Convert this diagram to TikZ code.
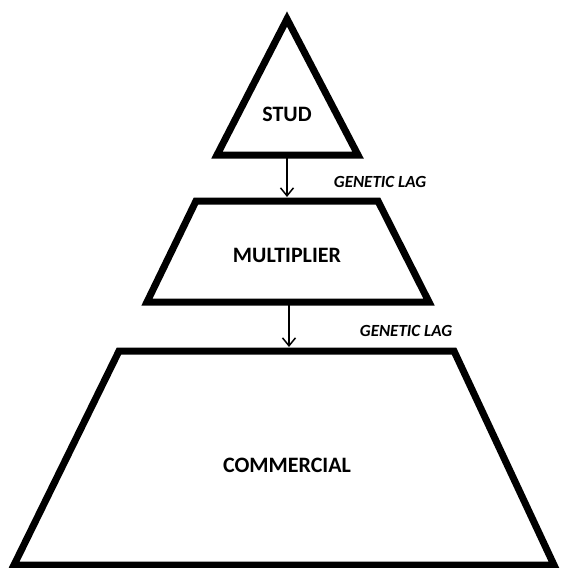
\documentclass[tikz,border=0pt]{standalone}
\usepackage{fontspec}
\setmainfont{Carlito}
\usepackage{tikz}
\usetikzlibrary{arrows.meta}

\begin{document}
\begin{tikzpicture}[x=1pt, y=-1pt, >={Straight Barb[length=8pt,width=13pt,line width=1.5pt]},
		tier/.style={draw, line width=7pt, line join=miter},
		level/.style={font=\bfseries\fontsize{22}{22}\selectfont, inner sep=0pt},
		lag/.style={font=\bfseries\itshape\fontsize{17}{17}\selectfont, inner sep=0pt},
		flow/.style={->, line width=1.5pt}]
		\useasboundingbox (0,0) rectangle (561,568);

		% stud
		\coordinate (s1) at (287,19);
		\coordinate (s2) at (358,155);
		\coordinate (s3) at (217,155);
		\draw[tier] (s1) -- (s2) -- (s3) -- cycle;
		\node[level] (stud) at (287,114) {STUD};

		% multiplier
		\coordinate (m1) at (196,201);
		\coordinate (m2) at (378,201);
		\coordinate (m3) at (429,302);
		\coordinate (m4) at (147,302);
		\draw[tier] (m1) -- (m2) -- (m3) -- (m4) -- cycle;
		\node[level] (mult) at (287,255) {MULTIPLIER};

		% commercial
		\coordinate (c1) at (119,351);
		\coordinate (c2) at (454,351);
		\coordinate (c3) at (554,565);
		\coordinate (c4) at (14,565);
		\draw[tier] (c1) -- (c2) -- (c3) -- (c4) -- cycle;
		\node[level] (comm) at (287,465) {COMMERCIAL};

		% lags
		\coordinate (studbase) at (287,158);
		\coordinate (multtop) at (287,197);
		\coordinate (multbase) at (289,305);
		\coordinate (commtop) at (289,347);
		\draw[flow] (studbase) -- (multtop);
		\draw[flow] (multbase) -- (commtop);
		\node[lag] (lag1) at (380,182) {GENETIC LAG};
		\node[lag] (lag2) at (406,331) {GENETIC LAG};
	\end{tikzpicture}
\end{document}
